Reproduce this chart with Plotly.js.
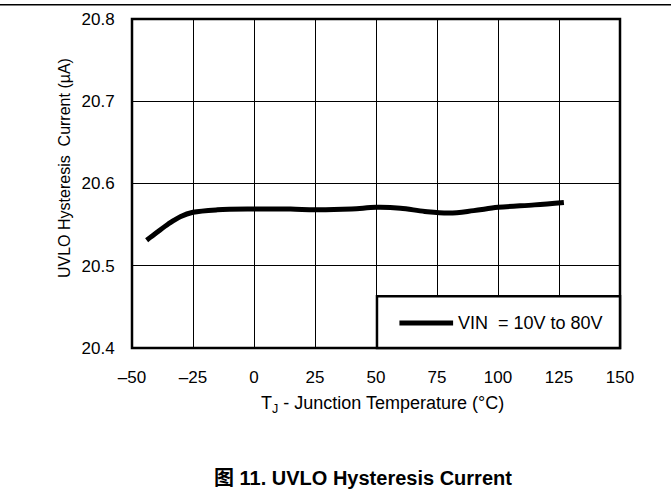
<!DOCTYPE html>
<html>
<head>
<meta charset="utf-8">
<script src="https://cdn.plot.ly/plotly-3.0.1.min.js"></script>
<style>html,body{margin:0;padding:0;background:#fff;}#chart{width:671px;height:491px;}</style>
</head>
<body>
<div id="chart"></div>
<script>
const tempC = [-44, -40, -35, -30, -25, -15, 0, 15, 25, 40, 50, 60, 70, 80, 90, 100, 115, 127];
const uvloHystUA = [20.531, 20.540, 20.551, 20.560, 20.565, 20.568, 20.569, 20.569, 20.568, 20.569, 20.571, 20.570, 20.566, 20.564, 20.567, 20.571, 20.574, 20.577];
const xTickVals = [-50, -25, 0, 25, 50, 75, 100, 125, 150];
const xTickText = ['–50', '–25', '0', '25', '50', '75', '100', '125', '150'];
const yTickVals = [20.4, 20.5, 20.6, 20.7, 20.8];
const yTickText = ['20.4', '20.5', '20.6', '20.7', '20.8'];
const legendLabel = 'VIN&nbsp; = 10V to 80V';
const yTitleText = 'UVLO Hysteresis&nbsp; Current (µA)';
const xTitleText = 'T<sub>J</sub> - Junction Temperature (°C)';
const captionText = '图 11. UVLO Hysteresis Current';

const FAM = 'Liberation Sans, Arial, sans-serif';
const tickFont = {family: FAM, size: 17, color: '#000'};

const trace = {
  x: tempC, y: uvloHystUA, mode: 'lines', type: 'scatter',
  line: {color: '#000', width: 5, shape: 'spline', smoothing: 1.0},
  showlegend: false, hoverinfo: 'skip'
};

const layout = {
  width: 671, height: 491,
  margin: {l: 132, r: 51, t: 19, b: 143},
  paper_bgcolor: '#fff', plot_bgcolor: '#fff',
  font: tickFont,
  showlegend: false,
  xaxis: {
    range: [-50, 150], tickvals: xTickVals, ticktext: xTickText,
    showgrid: true, gridcolor: '#000', gridwidth: 1,
    zeroline: false, showline: false, ticks: 'outside', ticklen: 14, tickcolor: 'rgba(0,0,0,0)',
    tickfont: tickFont, fixedrange: true
  },
  yaxis: {
    range: [20.4, 20.8], tickvals: yTickVals, ticktext: yTickText,
    showgrid: true, gridcolor: '#000', gridwidth: 1,
    zeroline: false, showline: false, ticks: 'outside', ticklen: 13, tickcolor: 'rgba(0,0,0,0)',
    tickfont: tickFont, fixedrange: true
  },
  shapes: [
    {type: 'rect', xref: 'paper', yref: 'paper', x0: 0, x1: 1, y0: 0, y1: 1,
     line: {color: '#000', width: 2.5}, layer: 'above'},
    {type: 'rect', xref: 'paper', yref: 'paper', x0: 0.502, x1: 1, y0: 0, y1: 0.157,
     fillcolor: '#fff', line: {color: '#000', width: 2.5}, layer: 'above'},
    {type: 'line', xref: 'paper', yref: 'paper', x0: 0.548, x1: 0.658, y0: 0.076, y1: 0.076,
     line: {color: '#000', width: 5}, layer: 'above'},
    {type: 'line', xref: 'paper', yref: 'paper', x0: -0.3, x1: 1.2, y0: 1.043, y1: 1.043,
     line: {color: '#000', width: 1.5}, layer: 'above'}
  ],
  annotations: [
    {xref: 'paper', yref: 'paper', x: 0.664, y: 0.076, xanchor: 'left', yanchor: 'middle',
     text: legendLabel, showarrow: false, font: {family: FAM, size: 18, color: '#000'}},
    {xref: 'paper', yref: 'paper', x: (382 - 132) / 488, y: (348 - 405) / 329, xanchor: 'center', yanchor: 'middle',
     text: xTitleText, showarrow: false, font: {family: FAM, size: 18, color: '#000'}},
    {xref: 'paper', yref: 'paper', x: (64 - 132) / 488, y: (348 - 168) / 329, xanchor: 'center', yanchor: 'middle',
     text: yTitleText, textangle: -90, showarrow: false, font: {family: FAM, size: 16, color: '#000'}},
    {xref: 'paper', yref: 'paper', x: (363 - 132) / 488, y: (348 - 478) / 329, xanchor: 'center', yanchor: 'middle',
     text: '<b>' + captionText + '</b>', showarrow: false,
     font: {family: 'Liberation Sans, Arial, Noto Sans CJK SC, sans-serif', size: 20, color: '#000'}}
  ]
};

Plotly.newPlot('chart', [trace], layout, {displayModeBar: false, staticPlot: true});
</script>
</body>
</html>
